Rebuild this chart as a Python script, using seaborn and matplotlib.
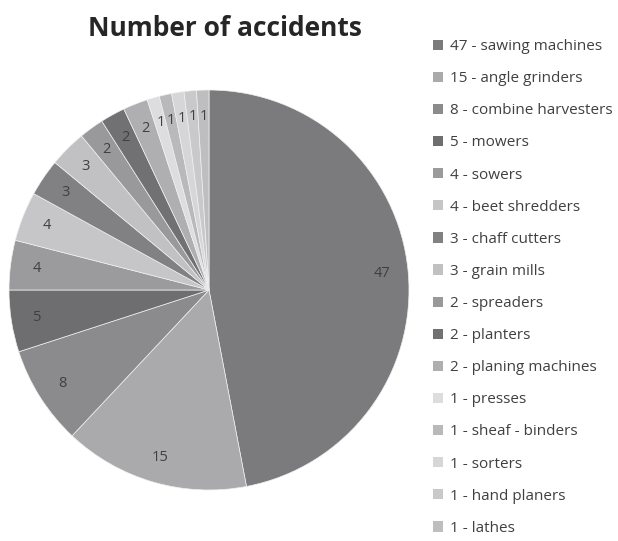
import matplotlib
matplotlib.use("Agg")
import matplotlib.pyplot as plt
import seaborn as sns
from matplotlib.patches import Patch

sns.set_theme(style="white")
plt.rcParams['font.family'] = ['Open Sans', 'DejaVu Sans']

categories = ["sawing machines", "angle grinders", "combine harvesters", "mowers", "sowers",
              "beet shredders", "chaff cutters", "grain mills", "spreaders", "planters",
              "planing machines", "presses", "sheaf - binders", "sorters", "hand planers", "lathes"]
values = [47, 15, 8, 5, 4, 4, 3, 3, 2, 2, 2, 1, 1, 1, 1, 1]
colors = ["#7b7b7e", "#aaaaac", "#8b8b8e", "#6e6e71", "#9b9b9e", "#c6c6c8", "#818184", "#c1c1c3",
          "#99999c", "#717174", "#afafb1", "#dddddf", "#b9b9bb", "#d6d6d8", "#c9c9cb", "#bebec0"]

fig = plt.figure(figsize=(6.18, 5.41), dpi=100)
ax = fig.add_axes([9/618, 51/541, 400/618, 400/541])
wedges, texts, autotexts = ax.pie(values, colors=colors, startangle=90, counterclock=False,
                                  autopct=lambda p: f"{round(p*sum(values)/100):d}",
                                  pctdistance=0.87, radius=1,
                                  wedgeprops=dict(linewidth=0.5, edgecolor="#f0f0f0"),
                                  textprops=dict(color="#404040", fontsize=10.5))
ax.set_xlim(-1, 1)
ax.set_ylim(-1, 1)
ax.set_aspect("equal")

fig.text(225/618, 1 - 28/541, "Number of accidents", ha="center", va="center",
         fontsize=19, fontweight="bold", color="#262626")

handles = [Patch(facecolor=c, edgecolor="none") for c in colors]
labels = [f"{v} - {c}" for v, c in zip(values, categories)]
leg = fig.legend(handles, labels, loc="upper left", bbox_to_anchor=(427/618, 1 - 33/541),
                 frameon=False, fontsize=11, labelspacing=1.12, handlelength=0.65,
                 handleheight=0.65, handletextpad=0.45, borderaxespad=0)
for t in leg.get_texts():
    t.set_color("#404040")

fig.savefig("out.png", dpi=100, facecolor="white")
